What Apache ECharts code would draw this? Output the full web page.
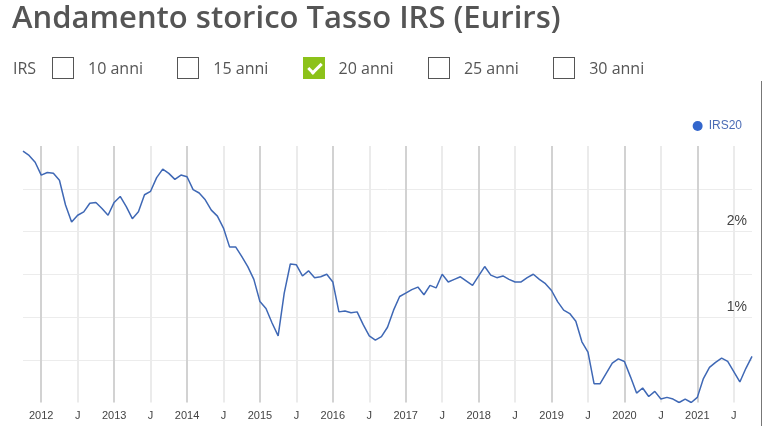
<!DOCTYPE html>
<html><head><meta charset="utf-8">
<script src="https://cdn.jsdelivr.net/npm/echarts@6/dist/echarts.min.js"></script>
<style>
html,body{margin:0;padding:0;background:#fff;}
#wrap{position:relative;width:772px;height:426px;overflow:hidden;font-family:"Open Sans",sans-serif;}
#chart{position:absolute;left:0;top:0;width:772px;height:426px;}
#title{position:absolute;left:12px;top:1px;font-size:31px;font-weight:600;line-height:31px;color:#555;white-space:nowrap;}
.lbl{position:absolute;top:57px;font-size:16px;line-height:22px;color:#555;white-space:nowrap;}
.box{position:absolute;top:57px;width:22px;height:22px;box-sizing:border-box;border:1px solid #555;background:#fff;}
.box.on{background:#8cc21a;border-color:#8cc21a;}
.box.on::after{content:"";position:absolute;left:7px;top:2px;width:5px;height:11px;border:solid #fff;border-width:0 3px 3px 0;transform:rotate(45deg);}
#rb{position:absolute;left:761px;top:81px;width:1px;height:345px;background:#777;}
</style></head>
<body>
<div id="wrap">
  <div id="chart"></div>
  <div id="title"></div>
  <div id="rb"></div>
</div>
<script>
const titleText = 'Andamento storico Tasso IRS (Eurirs)';
const groupLabel = 'IRS';
const options = ['10 anni', '15 anni', '20 anni', '25 anni', '30 anni'];
const checked = [false, false, true, false, false];
const seriesName = 'IRS20';

const months = [
  '2011-10','2011-11','2011-12',
  '2012-01','2012-02','2012-03','2012-04','2012-05','2012-06','2012-07','2012-08','2012-09','2012-10','2012-11','2012-12',
  '2013-01','2013-02','2013-03','2013-04','2013-05','2013-06','2013-07','2013-08','2013-09','2013-10','2013-11','2013-12',
  '2014-01','2014-02','2014-03','2014-04','2014-05','2014-06','2014-07','2014-08','2014-09','2014-10','2014-11','2014-12',
  '2015-01','2015-02','2015-03','2015-04','2015-05','2015-06','2015-07','2015-08','2015-09','2015-10','2015-11','2015-12',
  '2016-01','2016-02','2016-03','2016-04','2016-05','2016-06','2016-07','2016-08','2016-09','2016-10','2016-11','2016-12',
  '2017-01','2017-02','2017-03','2017-04','2017-05','2017-06','2017-07','2017-08','2017-09','2017-10','2017-11','2017-12',
  '2018-01','2018-02','2018-03','2018-04','2018-05','2018-06','2018-07','2018-08','2018-09','2018-10','2018-11','2018-12',
  '2019-01','2019-02','2019-03','2019-04','2019-05','2019-06','2019-07','2019-08','2019-09','2019-10','2019-11','2019-12',
  '2020-01','2020-02','2020-03','2020-04','2020-05','2020-06','2020-07','2020-08','2020-09','2020-10','2020-11','2020-12',
  '2021-01','2021-02','2021-03','2021-04','2021-05','2021-06','2021-07','2021-08','2021-09','2021-10'
];

const irs20 = [
  2.94, 2.89, 2.81,
  2.66, 2.69, 2.68, 2.60, 2.31, 2.11, 2.19, 2.23, 2.33, 2.34, 2.27, 2.19,
  2.34, 2.41, 2.29, 2.15, 2.23, 2.43, 2.47, 2.63, 2.73, 2.68, 2.61, 2.66,
  2.64, 2.49, 2.45, 2.37, 2.25, 2.18, 2.04, 1.82, 1.82, 1.71, 1.59, 1.44,
  1.18, 1.10, 0.93, 0.78, 1.28, 1.62, 1.61, 1.48, 1.54, 1.46, 1.47, 1.50,
  1.41, 1.06, 1.07, 1.05, 1.06, 0.91, 0.78, 0.73, 0.77, 0.88, 1.08, 1.24,
  1.28, 1.32, 1.35, 1.26, 1.37, 1.34, 1.50, 1.41, 1.44, 1.47, 1.42, 1.37,
  1.48, 1.59, 1.49, 1.46, 1.48, 1.44, 1.41, 1.41, 1.46, 1.50, 1.44, 1.39,
  1.31, 1.18, 1.08, 1.04, 0.95, 0.71, 0.59, 0.22, 0.22, 0.34, 0.46, 0.51,
  0.48, 0.30, 0.11, 0.17, 0.07, 0.13, 0.04, 0.06, 0.04, 0.00, 0.04, 0.00,
  0.06, 0.28, 0.41, 0.47, 0.52, 0.48, 0.36, 0.24, 0.40, 0.54
];

const midYearLabel = 'J';
const yTickLabels = { 1: '1%', 2: '2%' };

// ---- header (HTML) ----
const wrap = document.getElementById('wrap');
document.getElementById('title').textContent = titleText;
const gl = document.createElement('div');
gl.className = 'lbl'; gl.style.left = '13px'; gl.textContent = groupLabel;
wrap.appendChild(gl);
options.forEach((t, i) => {
  const b = document.createElement('div');
  b.className = 'box' + (checked[i] ? ' on' : '');
  b.style.left = (52 + i * 125.3) + 'px';
  wrap.appendChild(b);
  const l = document.createElement('div');
  l.className = 'lbl';
  l.style.left = (88 + i * 125.3) + 'px';
  l.textContent = t;
  wrap.appendChild(l);
});

// ---- chart ----
function isTick(v) { const m = v.slice(5); return m === '01' || m === '07'; }
const chart = echarts.init(document.getElementById('chart'), null, { renderer: 'canvas' });
chart.setOption({
  animation: false,
  grid: { left: 23, right: 20, top: 146, bottom: 23.5, containLabel: false },
  legend: {
    data: [seriesName], right: 25, top: 115, icon: 'circle',
    itemWidth: 10, itemHeight: 10, itemGap: 10,
    textStyle: { color: '#4c6db6', fontSize: 12, fontFamily: 'Arial, "Liberation Sans"', padding: [0, 0, 0, 1] }
  },
  xAxis: {
    type: 'category', data: months, boundaryGap: false,
    axisLine: { show: false }, axisTick: { show: false },
    axisLabel: {
      interval: (i, v) => isTick(v),
      formatter: v => v.slice(5) === '01' ? v.slice(0, 4) : midYearLabel,
      color: '#444', fontSize: 11, fontFamily: 'Arial, "Liberation Sans"', margin: 8
    },
    splitLine: {
      show: true, interval: (i, v) => isTick(v),
      lineStyle: { color: ['#d2d2d2', '#ebebeb'], width: 2 }
    }
  },
  yAxis: {
    type: 'value', position: 'right', min: 0, max: 3, interval: 0.5,
    axisLine: { show: false }, axisTick: { show: false },
    axisLabel: {
      inside: true, formatter: v => yTickLabels[v] || '',
      color: '#444', fontSize: 14, fontFamily: 'Arial, "Liberation Sans"',
      verticalAlign: 'bottom', lineHeight: 20, margin: 5
    },
    splitLine: {
      show: true,
      lineStyle: { color: ['rgba(0,0,0,0)', '#ececec', '#ececec', '#ececec', '#ececec', '#ececec', 'rgba(0,0,0,0)'], width: 1 }
    }
  },
  series: [{
    name: seriesName, type: 'line', data: irs20, symbol: 'none', showSymbol: false,
    lineStyle: { color: '#3f68b5', width: 1.5 }, itemStyle: { color: '#3366cc' }
  }]
});
</script>
</body></html>
